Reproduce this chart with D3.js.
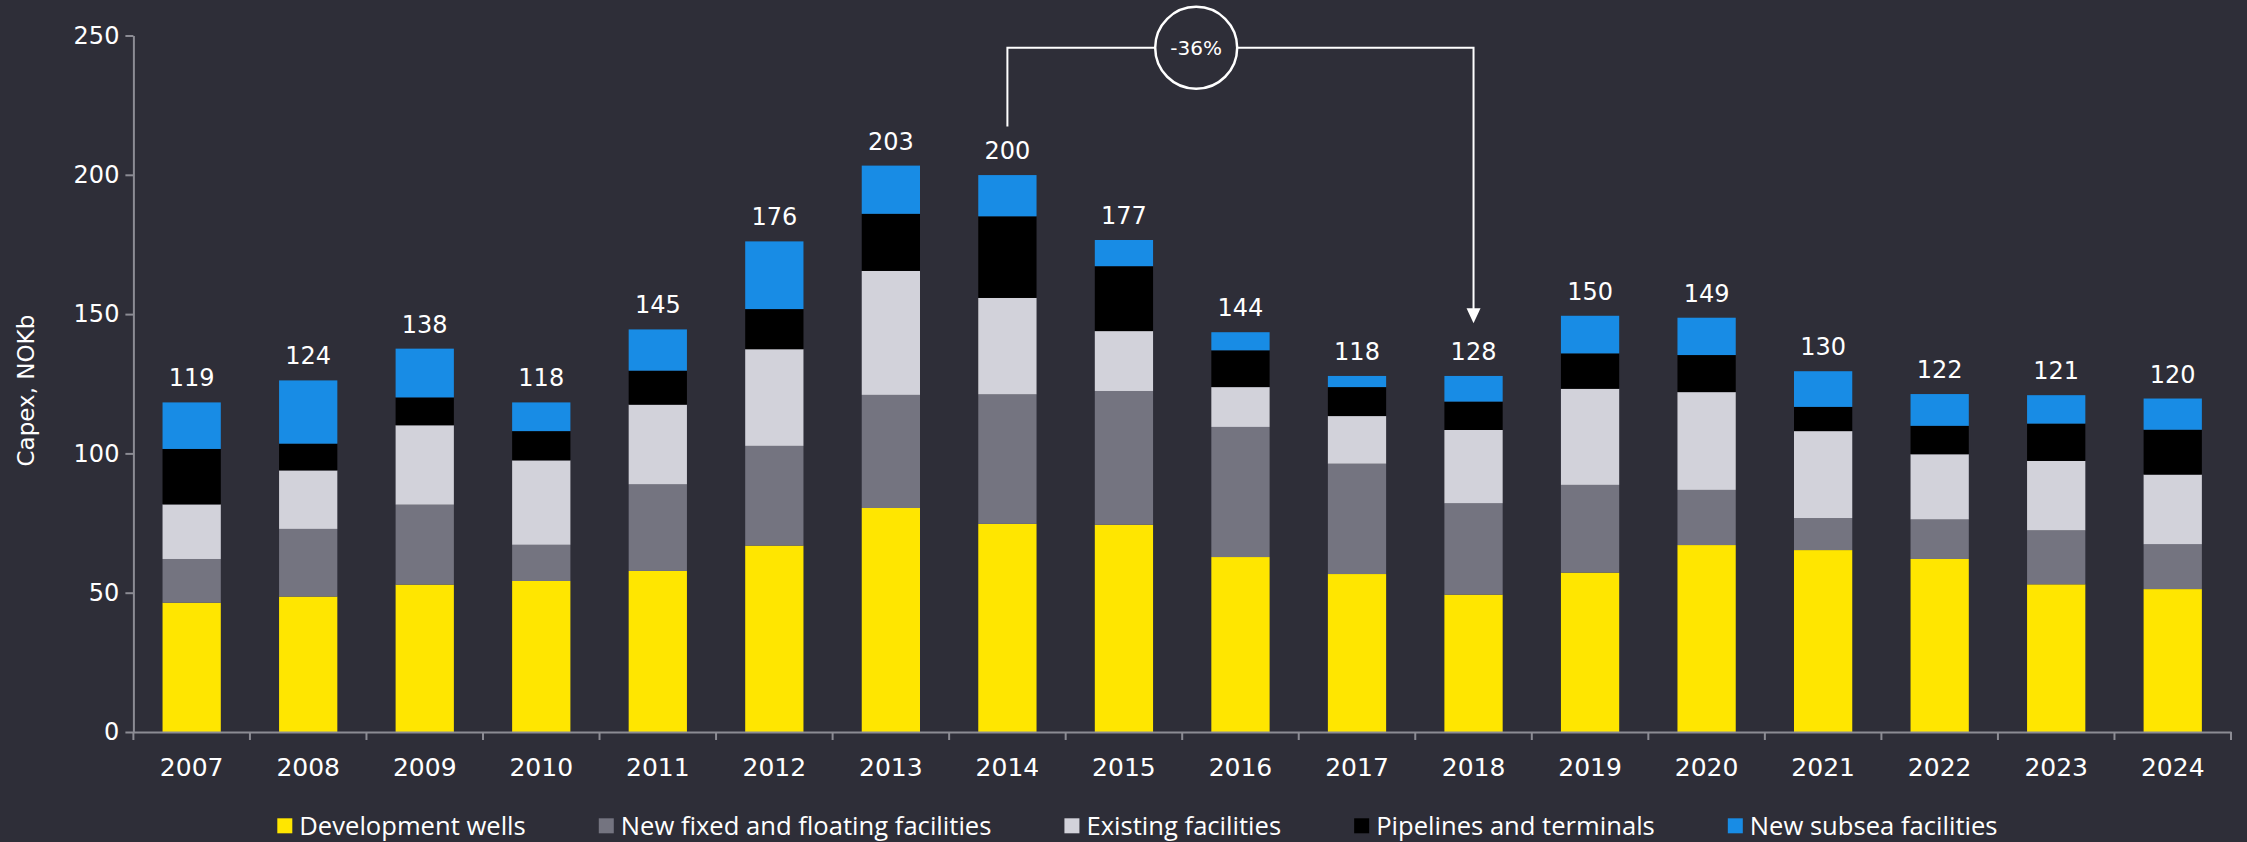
<!DOCTYPE html>
<html>
<head>
<meta charset="utf-8">
<script src="https://cdn.jsdelivr.net/npm/d3@7"></script>
<style>
  html, body { margin: 0; padding: 0; background: #2e2e38; }
  svg { display: block; }
  .tick text { font-family: "DejaVu Sans", sans-serif; fill: #ffffff; }
</style>
</head>
<body>
<div id="chart"></div>
<script>
// data
var years = ["2007", "2008", "2009", "2010", "2011", "2012", "2013", "2014", "2015",
  "2016", "2017", "2018", "2019", "2020", "2021", "2022", "2023", "2024"];
var devWells  = [46.4, 48.6, 52.9, 54.2, 57.8, 66.9, 80.4, 74.7, 74.4, 62.8, 56.7, 49.3, 57.2, 67.1, 65.3, 62.1, 53.0, 51.3];
var newFixed  = [15.7, 24.3, 28.7, 13.0, 31.1, 35.8, 40.6, 46.5, 48.0, 46.7, 39.6, 32.8, 31.5, 19.8, 11.5, 14.2, 19.4, 16.1];
var existing  = [19.6, 21.0, 28.5, 30.3, 28.6, 34.7, 44.5, 34.6, 21.5, 14.3, 17.1, 26.3, 34.5, 35.1, 31.2, 23.4, 24.9, 25.0];
var pipelines = [19.9,  9.6, 10.0, 10.5, 12.2, 14.4, 20.5, 29.3, 23.3, 13.2, 10.4, 10.2, 12.7, 13.3,  8.7, 10.2, 13.4, 16.1];
var subsea    = [16.7, 22.7, 17.5, 10.3, 14.8, 24.3, 17.3, 14.8,  9.4,  6.5,  4.0,  9.2, 13.5, 13.4, 12.8, 11.4, 10.2, 11.2];
var totalLabels = [119, 124, 138, 118, 145, 176, 203, 200, 177, 144, 118, 128, 150, 149, 130, 122, 121, 120];
var seriesNames = ["Development wells", "New fixed and floating facilities", "Existing facilities",
  "Pipelines and terminals", "New subsea facilities"];
var yTicks = [0, 50, 100, 150, 200, 250];
// -36% bracket: from 2014 to 2018
var changeText = "-36%";
var changeFrom = "2014", changeTo = "2018";

var colors = ["#ffe600", "#747480", "#d2d2da", "#000000", "#188ce5"];

var svgWidth = 2247, svgHeight = 842;
var margin = { top: 35.5, right: 16, bottom: 110, left: 133.4 };
var width = svgWidth - margin.left - margin.right;
var height = svgHeight - margin.top - margin.bottom;

var svg = d3.select("#chart").append("svg")
  .attr("width", svgWidth)
  .attr("height", svgHeight)
  .style("background", "#2e2e38");

var chartGroup = svg.append("g")
  .attr("transform", `translate(${margin.left}, ${margin.top})`);

// table for stacking
var table = years.map(function(y, i) {
  return { year: y, s0: devWells[i], s1: newFixed[i], s2: existing[i], s3: pipelines[i], s4: subsea[i] };
});
var stack = d3.stack().keys(["s0", "s1", "s2", "s3", "s4"]);
var stacked = stack(table);

var xScale = d3.scaleBand()
  .domain(years)
  .range([0, width])
  .paddingInner(0.5)
  .paddingOuter(0.25);

var yScale = d3.scaleLinear()
  .domain([0, 250])
  .range([height, 0]);

var axisColor = "#8c8c94";

// y axis
var leftAxis = d3.axisLeft(yScale).tickValues(yTicks).tickSize(8).tickSizeOuter(0).tickPadding(6);
var yAxisG = chartGroup.append("g").call(leftAxis);
yAxisG.select(".domain").attr("stroke", axisColor).attr("stroke-width", 2);
yAxisG.selectAll(".tick line").attr("stroke", axisColor).attr("stroke-width", 2);
yAxisG.selectAll(".tick text").style("font-size", "24px");

// bars
var groups = chartGroup.selectAll("g.layer")
  .data(stacked)
  .enter()
  .append("g")
  .attr("class", "layer")
  .attr("fill", (d, i) => colors[i]);

groups.selectAll("rect")
  .data(d => d)
  .enter()
  .append("rect")
  .attr("x", d => xScale(d.data.year))
  .attr("y", d => yScale(d[1]))
  .attr("width", xScale.bandwidth())
  .attr("height", d => yScale(d[0]) - yScale(d[1]));

// x axis
var bottomAxis = d3.axisBottom(xScale).tickSize(0).tickPadding(26);
var xAxisG = chartGroup.append("g")
  .attr("transform", `translate(0, ${height})`)
  .call(bottomAxis);
xAxisG.select(".domain").attr("stroke", axisColor).attr("stroke-width", 2);
xAxisG.selectAll(".tick text").style("font-size", "25px");

// x ticks between categories
var step = xScale.step();
xAxisG.selectAll("line.sep")
  .data(d3.range(years.length + 1))
  .enter()
  .append("line")
  .attr("class", "sep")
  .attr("x1", d => d * step)
  .attr("x2", d => d * step)
  .attr("y1", 0)
  .attr("y2", 8)
  .attr("stroke", axisColor)
  .attr("stroke-width", 2);

// total labels
var tops = years.map((y, i) => stacked[4][i][1]);
chartGroup.selectAll("text.total")
  .data(years)
  .enter()
  .append("text")
  .attr("class", "total")
  .attr("x", d => xScale(d) + xScale.bandwidth() / 2)
  .attr("y", (d, i) => yScale(tops[i]) - 16)
  .attr("text-anchor", "middle")
  .style("font-family", "DejaVu Sans, sans-serif")
  .style("font-size", "24px")
  .attr("fill", "#ffffff")
  .text((d, i) => totalLabels[i]);

// y axis title
chartGroup.append("text")
  .attr("transform", "rotate(-90)")
  .attr("x", -(390.6 - margin.top))
  .attr("y", 26 - margin.left + 8)
  .attr("text-anchor", "middle")
  .style("font-family", "DejaVu Sans, sans-serif")
  .style("font-size", "23px")
  .attr("fill", "#ffffff")
  .text("Capex, NOKb");

// change bracket
var xFrom = xScale(changeFrom) + xScale.bandwidth() / 2;
var xTo = xScale(changeTo) + xScale.bandwidth() / 2;
var lineY = yScale(245.6);
var fromBottom = yScale(217.3);
var arrowTip = yScale(146.7);
var circleX = xFrom + 1.62 * step;
var circleR = 41;

var bracket = chartGroup.append("g");
bracket.append("path")
  .attr("d", `M${xFrom},${fromBottom} V${lineY} H${xTo} V${arrowTip - 14}`)
  .attr("fill", "none")
  .attr("stroke", "#ffffff")
  .attr("stroke-width", 2);
bracket.append("path")
  .attr("d", `M${xTo - 7},${arrowTip - 15} L${xTo + 7},${arrowTip - 15} L${xTo},${arrowTip} Z`)
  .attr("fill", "#ffffff");
bracket.append("circle")
  .attr("cx", circleX)
  .attr("cy", lineY)
  .attr("r", circleR)
  .attr("fill", "#2e2e38")
  .attr("stroke", "#ffffff")
  .attr("stroke-width", 2.5);
bracket.append("text")
  .attr("x", circleX)
  .attr("y", lineY + 7)
  .attr("text-anchor", "middle")
  .style("font-family", "DejaVu Sans, sans-serif")
  .style("font-size", "20px")
  .attr("fill", "#ffffff")
  .text(changeText);

// legend
var legend = svg.append("g");
var lx = 277.3;
seriesNames.forEach(function(name, i) {
  legend.append("rect")
    .attr("x", lx)
    .attr("y", 818.3)
    .attr("width", 15)
    .attr("height", 15)
    .attr("fill", colors[i]);
  var t = legend.append("text")
    .attr("x", lx + 22)
    .attr("y", 834.7)
    .style("font-family", "Open Sans, sans-serif")
    .style("font-size", "25.6px")
    .attr("fill", "#ffffff")
    .text(name);
  lx = lx + 22 + t.node().getComputedTextLength() + 73;
});
</script>
</body>
</html>
